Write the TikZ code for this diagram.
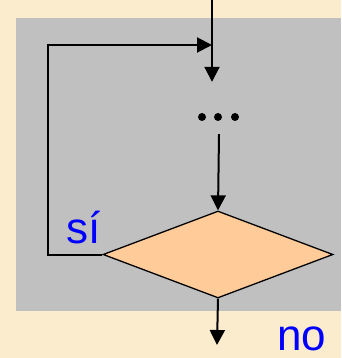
\documentclass[tikz,border=0pt]{standalone}
\usepackage{fontspec}
\setmainfont{Liberation Sans}
\usetikzlibrary{arrows.meta,shapes.geometric}
\definecolor{cream}{HTML}{FBECCD}
\definecolor{panel}{HTML}{C0C0C0}
\definecolor{peach}{HTML}{FFCC99}
\definecolor{lblue}{HTML}{0000FF}
\tikzset{
  conn/.style={line width=2pt,-{Triangle[length=15pt,width=15pt]}},
  decision/.style={diamond,draw=black,line width=1.3pt,fill=peach,minimum width=230pt,minimum height=87pt,inner sep=0pt,aspect=2.64},
  lbl/.style={text=lblue,inner sep=0pt,anchor=base,font=\fontsize{44}{50}\selectfont},
}
\begin{document}
\begin{tikzpicture}[x=1pt,y=-1pt]
\fill[cream] (0,0) rectangle (341,358);
\useasboundingbox (0,0) rectangle (341,358);
\fill[panel] (16,18) rectangle (341,311);
% nodes
\coordinate (in) at (212,0);
\coordinate (merge) at (212,45);
\node[minimum width=40pt,minimum height=70pt,inner sep=0pt] (dots) at (212,117) {};
\foreach \dx in {-10,6,23} \fill ([xshift=\dx pt]dots.center) circle (4pt);
\node[decision] (dec) at (218,254.5) {};
\coordinate (out) at (217,345);
\node[lbl] (si) at (84,243) {sí};
\node[lbl] (no) at (302,350) {no};
% connectors
\draw[conn] (in) -- (dots.north);
\draw[conn] ([xshift=7pt,yshift=18pt]dots.south) -- (dec.north);
\draw[conn] (dec.west) -- ++(-54,0) |- (merge);
\draw[conn] (dec.south) -- (out);
\end{tikzpicture}
\end{document}
